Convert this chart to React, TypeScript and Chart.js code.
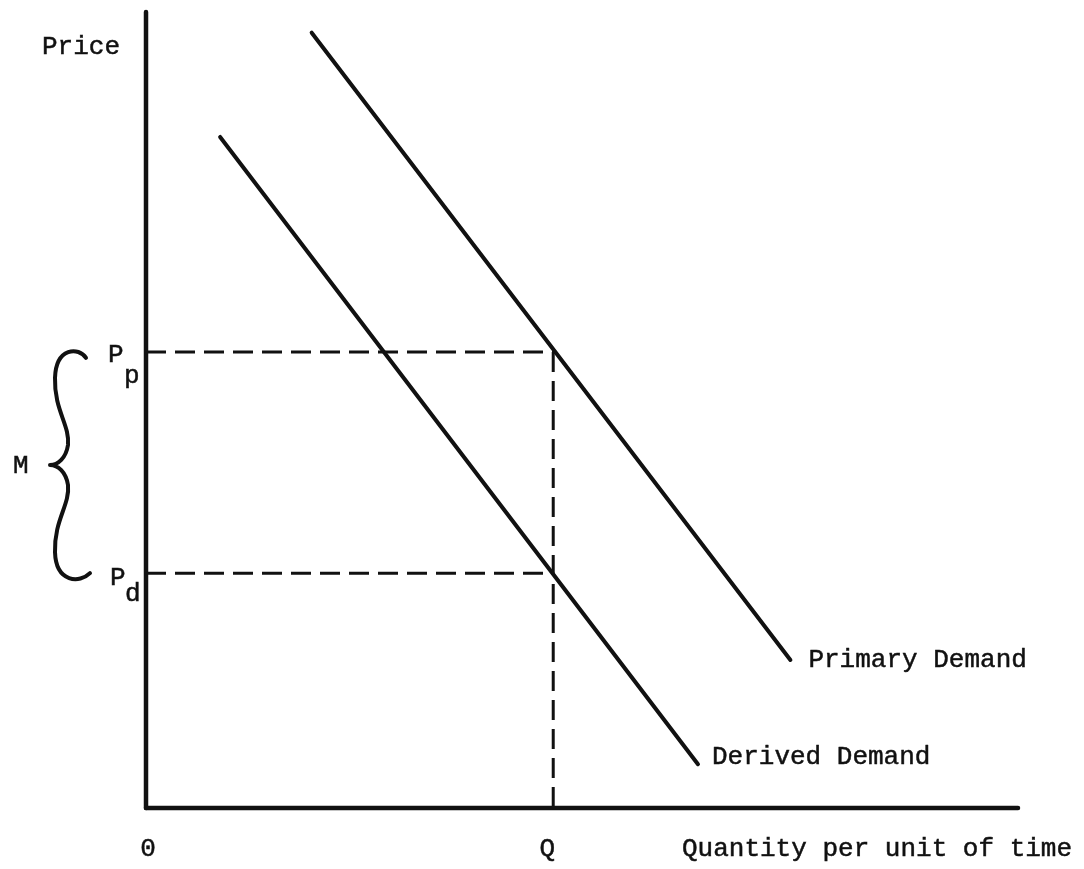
import React, { useEffect, useRef } from "react";
import { Chart, registerables } from "chart.js";

Chart.register(...registerables);

// ---- data (arbitrary units) ----
const xRange = [0, 10];
const yRange = [0, 10];
const primaryDemandX = [1.9, 7.39];
const primaryDemandY = [9.74, 1.86];
const derivedDemandX = [0.85, 6.33];
const derivedDemandY = [8.43, 0.55];
const quantityQ = 4.67;
const pricePrimary = 5.73;
const priceDerived = 2.95;

const axisTitles = ["Price", "Quantity per unit of time"];
const curveNames = ["Primary Demand", "Derived Demand"];
const tickTexts = ["0", "Q", "M"];
const priceSymbols = ["P", "p", "d"];

const INK = "#111111";
const FONT = '26px "Liberation Mono", "Courier New", monospace';

const toPts = (xs: number[], ys: number[]) => xs.map((x, i) => ({ x, y: ys[i] }));

const annotationPlugin = {
  id: "annotations",
  afterDatasetsDraw(chart: any) {
    const { ctx } = chart;
    const xs = chart.scales.x;
    const ys = chart.scales.y;
    const x0 = xs.getPixelForValue(xRange[0]);
    const xMax = xs.getPixelForValue(xRange[1]);
    const y0 = ys.getPixelForValue(yRange[0]);
    const yTop = ys.getPixelForValue(yRange[1]);
    const yPp = ys.getPixelForValue(pricePrimary);
    const yPd = ys.getPixelForValue(priceDerived);
    const xQ = xs.getPixelForValue(quantityQ);

    ctx.save();
    ctx.fillStyle = INK;
    ctx.strokeStyle = INK;
    ctx.font = FONT;
    ctx.textBaseline = "alphabetic";
    ctx.lineWidth = 0.5;

    const text = (s: string, x: number, y: number) => {
      ctx.fillText(s, x, y);
      ctx.strokeText(s, x, y);
    };

    // Axis titles
    ctx.textAlign = "left";
    text(axisTitles[0], x0 - 104, yTop + 42);
    text(axisTitles[1], xMax - 336, y0 + 48);

    // Bottom ticks
    ctx.textAlign = "center";
    text(tickTexts[0], x0 + 2, y0 + 48);
    text(tickTexts[1], xQ - 6, y0 + 48);

    // Price symbols
    ctx.textAlign = "left";
    text(priceSymbols[0], x0 - 38, yPp + 10);
    text(priceSymbols[1], x0 - 22, yPp + 31);
    text(priceSymbols[0], x0 - 36, yPd + 12);
    text(priceSymbols[2], x0 - 21, yPd + 28);

    // M label
    const top = yPp - 2;
    const bot = yPd + 7;
    const mid = (top + bot) / 2;
    text(tickTexts[2], 13, mid + 8);

    // Brace
    const m = (y: number) => top + bot - y;
    ctx.lineWidth = 4;
    ctx.lineCap = "round";
    ctx.lineJoin = "round";
    ctx.beginPath();
    ctx.moveTo(86, top + 8);
    ctx.bezierCurveTo(79, top - 3, 56, top - 3, 55, top + 28);
    ctx.bezierCurveTo(54, top + 60, 70, mid - 40, 68, mid - 20);
    ctx.bezierCurveTo(66, mid - 7, 58, mid, 50, mid);
    ctx.bezierCurveTo(58, mid, 66, m(mid - 7), 68, m(mid - 20));
    ctx.bezierCurveTo(70, m(mid - 40), 54, m(top + 60), 55, m(top + 28));
    ctx.bezierCurveTo(56, m(top - 3), 80, m(top - 3), 90, m(top + 7));
    ctx.stroke();

    // Curve labels
    ctx.lineWidth = 0.5;
    const pEnd = { x: xs.getPixelForValue(primaryDemandX[1]), y: ys.getPixelForValue(primaryDemandY[1]) };
    const dEnd = { x: xs.getPixelForValue(derivedDemandX[1]), y: ys.getPixelForValue(derivedDemandY[1]) };
    text(curveNames[0], pEnd.x + 18, pEnd.y + 7);
    text(curveNames[1], dEnd.x + 14, dEnd.y);

    ctx.restore();
  },
};

export default function App() {
  const canvasRef = useRef<HTMLCanvasElement | null>(null);

  useEffect(() => {
    if (!canvasRef.current) return;
    const solid = (data: any[], width: number) => ({
      data,
      borderColor: INK,
      borderWidth: width,
      pointRadius: 0,
      fill: false,
      tension: 0,
      clip: false as any,
      borderCapStyle: "round" as const,
    });
    const dashed = (data: any[]) => ({
      data,
      borderColor: INK,
      borderWidth: 3,
      borderDash: [20, 9],
      pointRadius: 0,
      fill: false,
      tension: 0,
      clip: false as any,
    });

    const chart = new Chart(canvasRef.current, {
      type: "line",
      data: {
        datasets: [
          solid([{ x: xRange[0], y: yRange[0] }, { x: xRange[0], y: yRange[1] }], 4.5),
          solid([{ x: xRange[0], y: yRange[0] }, { x: xRange[1], y: yRange[0] }], 4.5),
          dashed([{ x: xRange[0], y: pricePrimary }, { x: quantityQ, y: pricePrimary }]),
          dashed([{ x: xRange[0], y: priceDerived }, { x: quantityQ, y: priceDerived }]),
          dashed([{ x: quantityQ, y: pricePrimary }, { x: quantityQ, y: yRange[0] }]),
          solid(toPts(primaryDemandX, primaryDemandY), 4),
          solid(toPts(derivedDemandX, derivedDemandY), 4),
        ] as any,
      },
      options: {
        animation: false,
        responsive: true,
        maintainAspectRatio: false,
        events: [],
        layout: { padding: { left: 146, top: 12, right: 66, bottom: 61 } },
        scales: {
          x: { type: "linear", min: xRange[0], max: xRange[1], display: false },
          y: { type: "linear", min: yRange[0], max: yRange[1], display: false },
        },
        plugins: {
          legend: { display: false },
          tooltip: { enabled: false },
          title: { display: false },
        },
      },
      plugins: [annotationPlugin],
    });
    return () => chart.destroy();
  }, []);

  return (
    <div style={{ position: "fixed", left: 0, top: 0, width: 1084, height: 869, background: "#fff" }}>
      <canvas ref={canvasRef} />
    </div>
  );
}
